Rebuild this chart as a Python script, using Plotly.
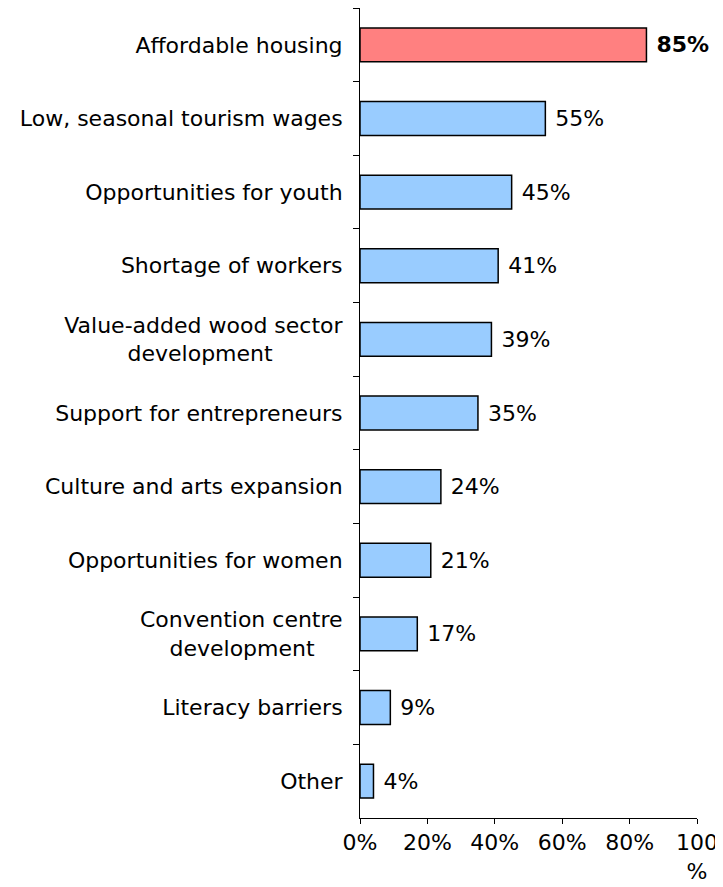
import plotly.graph_objects as go

NB = "\u00a0"
categories = [
    "Affordable housing",
    "Low, seasonal tourism wages",
    "Opportunities for youth",
    "Shortage of workers",
    "Value-added wood sector<br>development" + NB * 10,
    "Support for entrepreneurs",
    "Culture and arts expansion",
    "Opportunities for women",
    "Convention centre<br>development" + NB * 4,
    "Literacy barriers",
    "Other",
]
values = [85, 55, 45, 41, 39, 35, 24, 21, 17, 9, 4]
highlight = [True] + [False] * 10
x_tickvals = [0, 20, 40, 60, 80, 100]
x_ticktext = ["0%", "20%", "40%", "60%", "80%", "100<br>%"]

colors = ["#FF8080" if h else "#99CCFF" for h in highlight]
labels = [("<b>%d%%</b>" % v) if h else ("%d%%" % v) for v, h in zip(values, highlight)]

FONT = "DejaVu Sans"
FS = 22

fig = go.Figure(go.Bar(
    y=categories,
    x=values,
    orientation="h",
    marker=dict(color=colors, line=dict(color="black", width=1.5)),
    text=[" " + t for t in labels],
    textposition="outside",
    textfont=dict(family=FONT, size=FS, color="black"),
    cliponaxis=False,
))

fig.update_layout(
    width=723, height=887,
    margin=dict(l=352, r=34, t=0, b=77, autoexpand=False),
    plot_bgcolor="white", paper_bgcolor="white",
    bargap=0.54,
    showlegend=False,
    font=dict(family=FONT, size=FS, color="black"),
)
fig.update_xaxes(
    range=[0, 100], tickvals=x_tickvals, ticktext=x_ticktext,
    showgrid=False, zeroline=False, showline=True, linecolor="black", linewidth=1,
    ticks="outside", ticklen=5, tickcolor="black",
    tickfont=dict(family=FONT, size=FS),
)
fig.update_yaxes(
    autorange="reversed", type="category",
    showgrid=False, showline=True, linecolor="black", linewidth=1,
    ticks="outside", tickson="boundaries", ticklen=6, tickcolor="black",
    ticklabelstandoff=12,
    tickfont=dict(family=FONT, size=FS),
)

fig.write_html("out.html")
